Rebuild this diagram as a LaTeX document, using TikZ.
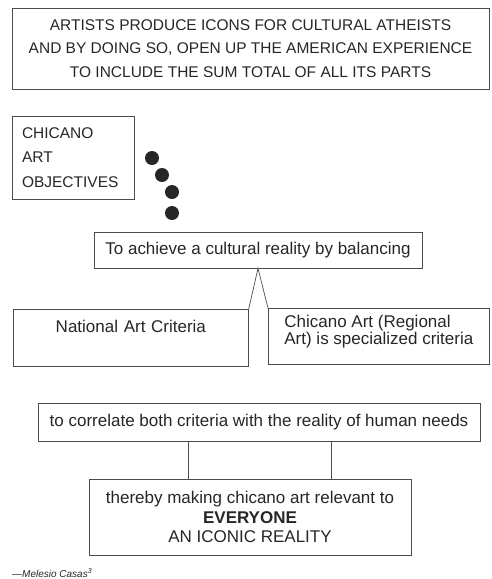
\documentclass[tikz,border=0pt]{standalone}
\usepackage{fontspec}
\setmainfont{Liberation Sans}

\begin{document}
\begin{tikzpicture}[x=1pt,y=-1pt,
    box/.style={draw=black!70, line width=0.7pt, inner sep=0pt, text=black!85},
    capsfont/.style={font=\fontsize{15.5}{23.5}\selectfont},
    lowfont/.style={font=\fontsize{17}{19.5}\selectfont},
    dot/.style={circle, fill=black!85, minimum size=14pt, inner sep=0pt}]
    \useasboundingbox (0,0) rectangle (491,579);
    % statement at the top
    \node[box, capsfont, minimum width=477pt, minimum height=81pt, align=center] (claim) at (250.5,48.5)
        {ARTISTS PRODUCE ICONS FOR CULTURAL ATHEISTS\\AND BY DOING SO, OPEN UP THE AMERICAN EXPERIENCE\\TO INCLUDE THE SUM TOTAL OF ALL ITS PARTS};
    \node[box, font=\fontsize{15.5}{24.5}\selectfont, text width=102pt, inner xsep=10pt, minimum height=83pt, align=left] (aims) at (73,157.5)
        {CHICANO\\ART\\OBJECTIVES};
    \foreach \x/\y [count=\i] in {152/158, 162/175, 172/192, 172/213}
        \node[dot] (dot\i) at (\x,\y) {};
    % balancing the two criteria
    \node[box, lowfont, minimum width=328pt, minimum height=36pt] (goal) at (258,250)
        {To achieve a cultural reality by balancing};
    \node[box, lowfont, anchor=north west, text width=235pt, align=center, text height=23.5pt, text depth=33.5pt] (natl) at (13,309)
        {National Art Criteria};
    \node[box, font=\fontsize{17}{16.7}\selectfont, anchor=north west, minimum width=221pt, align=left, text height=36pt, text depth=20pt] (reg) at (268,308)
        {Chicano Art (Regional\\Art) is specialized criteria};
    \draw[black!70, line width=0.7pt] (natl.north east) -- (goal.south) -- (reg.north west);
    % outcome
    \node[box, lowfont, minimum width=442pt, minimum height=38pt] (corr) at (259,422)
        {to correlate both criteria with the reality of human needs};
    \node[box, lowfont, minimum width=322pt, minimum height=76pt, align=center] (result) at (250,517)
        {thereby making chicano art relevant to\\\textbf{EVERYONE}\\AN ICONIC REALITY};
    \draw[black!70, line width=0.7pt] ([xshift=-71pt]corr.south) -- ([xshift=-71pt]corr.south |- result.north);
    \draw[black!70, line width=0.7pt] ([xshift=72pt]corr.south) -- ([xshift=72pt]corr.south |- result.north);
    \node[anchor=west, text=black!85, font=\fontsize{10}{12}\selectfont\itshape, inner sep=0pt] (credit) at (12,573)
        {---Melesio Casas\textsuperscript{3}};
\end{tikzpicture}
\end{document}
